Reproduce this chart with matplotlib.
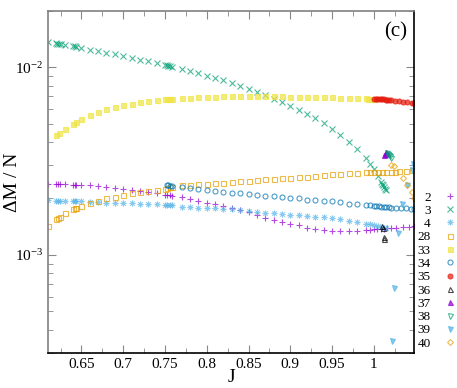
import matplotlib.pyplot as plt
from matplotlib.path import Path
from matplotlib.ticker import MultipleLocator, LogLocator, NullFormatter

plt.rcParams['font.family'] = 'Liberation Serif'
plt.rcParams['mathtext.fontset'] = 'stix'

# values of Delta M / N are given in units of 1e-3
j_2 = [0.61, 0.62, 0.622, 0.624, 0.63, 0.64, 0.642, 0.644,
       0.65, 0.66, 0.67, 0.68, 0.69, 0.70, 0.71, 0.72, 0.73, 0.74,
       0.75, 0.753, 0.756, 0.758,
       0.77, 0.78, 0.79, 0.80, 0.81, 0.82, 0.83, 0.84, 0.85, 0.86, 0.87, 0.88,
       0.89, 0.90, 0.91, 0.92, 0.93, 0.94, 0.95, 0.96, 0.97, 0.98, 0.99,
       0.995, 1.0, 1.004, 1.008, 1.012, 1.016, 1.02, 1.027, 1.035, 1.042, 1.048]
dm_2 = [2.40, 2.39, 2.39, 2.38, 2.38, 2.37, 2.37, 2.36,
        2.36, 2.35, 2.33, 2.31, 2.28, 2.25, 2.23, 2.20, 2.17, 2.14,
        2.10, 2.09, 2.08, 2.07,
        2.04, 1.99, 1.95, 1.90, 1.86, 1.82, 1.77, 1.73, 1.69, 1.63, 1.57, 1.53,
        1.50, 1.47, 1.44, 1.40, 1.37, 1.36, 1.34, 1.34, 1.35, 1.35, 1.36,
        1.36, 1.37, 1.37, 1.38, 1.38, 1.39, 1.39, 1.40, 1.41, 1.41, 1.42]

j_3 = [0.61, 0.62, 0.621, 0.623, 0.625, 0.63, 0.64, 0.642, 0.644,
       0.65, 0.66, 0.67, 0.68, 0.69, 0.70, 0.71, 0.72, 0.73, 0.74,
       0.75, 0.752, 0.754, 0.756, 0.758,
       0.77, 0.78, 0.79, 0.80, 0.81, 0.82, 0.83, 0.84, 0.85, 0.86, 0.87, 0.88,
       0.89, 0.90, 0.91, 0.92, 0.93, 0.94, 0.95, 0.96, 0.97, 0.98, 0.99,
       0.995, 1.0, 1.005, 1.009, 1.01, 1.011, 1.012, 1.013, 1.014]
dm_3 = [13.59, 13.4, 13.35, 13.3, 13.25, 13.15, 13.0, 12.95, 12.9,
        12.73, 12.42, 12.21, 11.92, 11.73, 11.54, 11.26, 10.99, 10.76, 10.54,
        10.3, 10.25, 10.2, 10.15, 10.1,
        9.8, 9.52, 9.33, 9.04, 8.78, 8.53, 8.25, 8.0, 7.67, 7.43, 7.16, 6.82,
        6.54, 6.25, 5.95, 5.67, 5.35, 5.04, 4.70, 4.36, 4.02, 3.65, 3.27,
        3.06, 2.88, 2.63, 2.45, 2.40, 2.35, 2.30, 2.26, 2.23]

j_4 = [0.61, 0.62, 0.622, 0.624, 0.63, 0.64, 0.642, 0.644,
       0.65, 0.66, 0.67, 0.68, 0.69, 0.70, 0.71, 0.72, 0.73, 0.74,
       0.75, 0.753, 0.756, 0.758,
       0.77, 0.78, 0.79, 0.80, 0.81, 0.82, 0.83, 0.84, 0.85, 0.86, 0.87, 0.88,
       0.89, 0.90, 0.91, 0.92, 0.93, 0.94, 0.95, 0.96, 0.97, 0.98, 0.99,
       0.995, 1.0, 1.005, 1.01, 1.015]
dm_4 = [1.96, 1.95, 1.95, 1.95, 1.95, 1.93, 1.93, 1.93,
        1.93, 1.91, 1.91, 1.90, 1.89, 1.89, 1.89, 1.88, 1.88, 1.87,
        1.85, 1.85, 1.85, 1.85,
        1.81, 1.80, 1.79, 1.79, 1.77, 1.76, 1.75, 1.74, 1.72, 1.70, 1.68, 1.67,
        1.65, 1.64, 1.63, 1.61, 1.60, 1.59, 1.57, 1.55, 1.52, 1.49, 1.47,
        1.46, 1.44, 1.43, 1.41, 1.39]

j_28 = [0.61, 0.62, 0.622, 0.624, 0.63, 0.64, 0.642, 0.644,
        0.65, 0.66, 0.67, 0.68, 0.69, 0.70, 0.71, 0.72, 0.73, 0.74,
        0.75, 0.753, 0.756, 0.758,
        0.77, 0.78, 0.79, 0.80, 0.81, 0.82, 0.83, 0.84, 0.85, 0.86, 0.87, 0.88,
        0.89, 0.90, 0.91, 0.92, 0.93, 0.94, 0.95, 0.96, 0.97, 0.98, 0.99,
        0.995, 1.0, 1.005, 1.01, 1.015, 1.02, 1.025, 1.03, 1.038, 1.046]
dm_28 = [1.43, 1.55, 1.57, 1.59, 1.67, 1.75, 1.77, 1.79,
         1.83, 1.90, 1.95, 2.00, 2.04, 2.09, 2.14, 2.16, 2.20, 2.23,
         2.25, 2.27, 2.29, 2.31,
         2.35, 2.36, 2.38, 2.39, 2.42, 2.43, 2.44, 2.47, 2.49, 2.51, 2.53, 2.55,
         2.56, 2.58, 2.59, 2.61, 2.64, 2.67, 2.69, 2.71, 2.72, 2.74, 2.76,
         2.76, 2.77, 2.77, 2.77, 2.78, 2.78, 2.78, 2.79, 2.81, 2.83]

j_33 = [0.62, 0.623, 0.63, 0.64, 0.643,
        0.65, 0.66, 0.67, 0.68, 0.69, 0.70, 0.71, 0.72, 0.73, 0.74,
        0.75, 0.753, 0.756, 0.758,
        0.77, 0.78, 0.79, 0.80, 0.81, 0.82, 0.83, 0.84, 0.85, 0.86, 0.87, 0.88,
        0.89, 0.90, 0.91, 0.92, 0.93, 0.94, 0.95, 0.96, 0.97, 0.98, 0.99,
        0.993, 0.996, 1.0]
dm_33 = [4.35, 4.48, 4.70, 5.02, 5.14,
         5.31, 5.56, 5.77, 5.98, 6.13, 6.28, 6.41, 6.52, 6.60, 6.67,
         6.76, 6.77, 6.79, 6.80,
         6.84, 6.90, 6.93, 6.95, 6.98, 7.00, 7.00, 7.01, 7.01, 7.01, 7.01, 7.00,
         7.00, 6.98, 6.97, 6.96, 6.95, 6.93, 6.91, 6.89, 6.88, 6.87, 6.84,
         6.82, 6.81, 6.80]

j_34 = [0.752, 0.754, 0.756, 0.758,
        0.77, 0.78, 0.79, 0.80, 0.81, 0.82, 0.83, 0.84, 0.85, 0.86, 0.87, 0.88,
        0.89, 0.90, 0.91, 0.92, 0.93, 0.94, 0.95, 0.96, 0.97, 0.98, 0.99,
        0.995, 1.0, 1.003, 1.006, 1.009, 1.012, 1.015, 1.018, 1.021, 1.026,
        1.032, 1.038, 1.044, 1.048]
dm_34 = [2.36, 2.35, 2.34, 2.33,
         2.31, 2.28, 2.24, 2.22, 2.19, 2.17, 2.15, 2.13, 2.11, 2.09, 2.07, 2.05,
         2.04, 2.02, 2.00, 1.97, 1.96, 1.95, 1.93, 1.92, 1.88, 1.87, 1.85,
         1.84, 1.83, 1.82, 1.82, 1.81, 1.81, 1.80, 1.80, 1.79, 1.79,
         1.78, 1.77, 1.76, 1.75]

j_35 = [1.0, 1.002, 1.004, 1.006, 1.008, 1.01, 1.012, 1.014, 1.016, 1.018,
        1.02, 1.025, 1.03, 1.035, 1.04, 1.045, 1.048]
dm_35 = [6.81, 6.80, 6.79, 6.78, 6.77, 6.76, 6.74, 6.73, 6.72, 6.70,
         6.69, 6.65, 6.61, 6.57, 6.53, 6.49, 6.46]

j_36 = [1.01, 1.011, 1.012, 1.012]
dm_36 = [1.42, 1.40, 1.25, 1.21]

j_37 = [1.012, 1.013, 1.014, 1.015, 1.016]
dm_37 = [3.42, 3.47, 3.50, 3.52, 3.49]

j_38 = [1.016, 1.017, 1.018, 1.019, 1.02]
dm_38 = [3.50, 3.45, 3.40, 3.35, 3.30]

j_39 = [1.022, 1.024, 1.029, 1.034, 1.04, 1.045, 1.047]
dm_39 = [0.346, 0.666, 1.31, 1.88, 2.36, 2.83, 3.07]

j_40 = [1.021, 1.024, 1.035, 1.04, 1.045, 1.048]
dm_40 = [3.03, 2.97, 2.56, 2.36, 2.17, 2.00]

labels = ['2', '3', '4', '28', '33', '34', '35', '36', '37', '38', '39', '40']
j_all = [j_2, j_3, j_4, j_28, j_33, j_34, j_35, j_36, j_37, j_38, j_39, j_40]
dm_all = [dm_2, dm_3, dm_4, dm_28, dm_33, dm_34, dm_35, dm_36, dm_37, dm_38, dm_39, dm_40]

# gnuplot-like point type 3: "+" and "x" on top of each other
star = Path([(-1, 0), (1, 0), (0, -1), (0, 1),
             (-0.7, -0.7), (0.7, 0.7), (-0.7, 0.7), (0.7, -0.7)],
            [Path.MOVETO, Path.LINETO] * 4)

colors = ['#9400d3', '#009e73', '#56b4e9', '#e69f00', '#f0e442', '#0072b2',
          '#e51e10', 'black', '#9400d3', '#009e73', '#56b4e9', '#e69f00']
markers = ['+', 'x', star, 's', 's', 'o', 'o', '^', '^', 'v', 'v', 'D']
filled = [False, False, False, False, True, False, True, False, True, False, True, False]
sizes = [4.5, 4, 4.5, 3.6, 3.6, 3.6, 3.6, 3.6, 3.6, 3.6, 3.6, 3.0]

fig = plt.figure(figsize=(4.57, 3.88), dpi=100)
ax = fig.add_axes([0.105, 0.090, 0.801, 0.882])

for j, dm, lab, c, m, f, s in zip(j_all, dm_all, labels, colors, markers, filled, sizes):
    ax.plot(j, [v * 1e-3 for v in dm], linestyle='none', marker=m, ms=s,
            mec=c, mfc=c if f else 'none', mew=0.8, alpha=0.7, label=lab)

ax.set_yscale('log')
ax.set_xlim(0.61, 1.048)
ax.set_ylim(3e-4, 2e-2)

ax.xaxis.set_minor_locator(MultipleLocator(0.025))
ax.set_xticks([0.65, 0.7, 0.75, 0.8, 0.85, 0.9, 0.95, 1.0])
ax.set_xticklabels(['0.65', '0.7', '0.75', '0.8', '0.85', '0.9', '0.95', '1'])
ax.yaxis.set_major_locator(LogLocator(base=10))
ax.yaxis.set_minor_locator(LogLocator(base=10, subs=range(2, 10)))
ax.yaxis.set_minor_formatter(NullFormatter())

ax.tick_params(which='both', direction='in', top=True, right=True,
               color='#888888', labelsize=11)
ax.tick_params(which='major', length=6)
ax.tick_params(which='minor', length=3.5)

for side in ['left', 'top']:
    ax.spines[side].set_color('#808080')
for side in ['right', 'bottom']:
    ax.spines[side].set_color('black')
for sp in ax.spines.values():
    sp.set_linewidth(1.2)

ax.set_xlabel('J', fontsize=14)
ax.set_ylabel('ΔM / N', fontsize=14)
ax.xaxis.set_label_coords(0.5, -0.047)
ax.yaxis.set_label_coords(-0.074, 0.5)
ax.text(0.951, 0.939, '(c)', transform=ax.transAxes, fontsize=15,
        ha='center', va='center')

ax.legend(loc='upper right', bbox_to_anchor=(1.0, 0.507),
          bbox_transform=fig.transFigure, frameon=False, markerfirst=False,
          fontsize=9.5, handlelength=1.0, handletextpad=1.0, labelspacing=0.08,
          borderpad=0, borderaxespad=0)

fig.savefig('out.png', dpi=100)
